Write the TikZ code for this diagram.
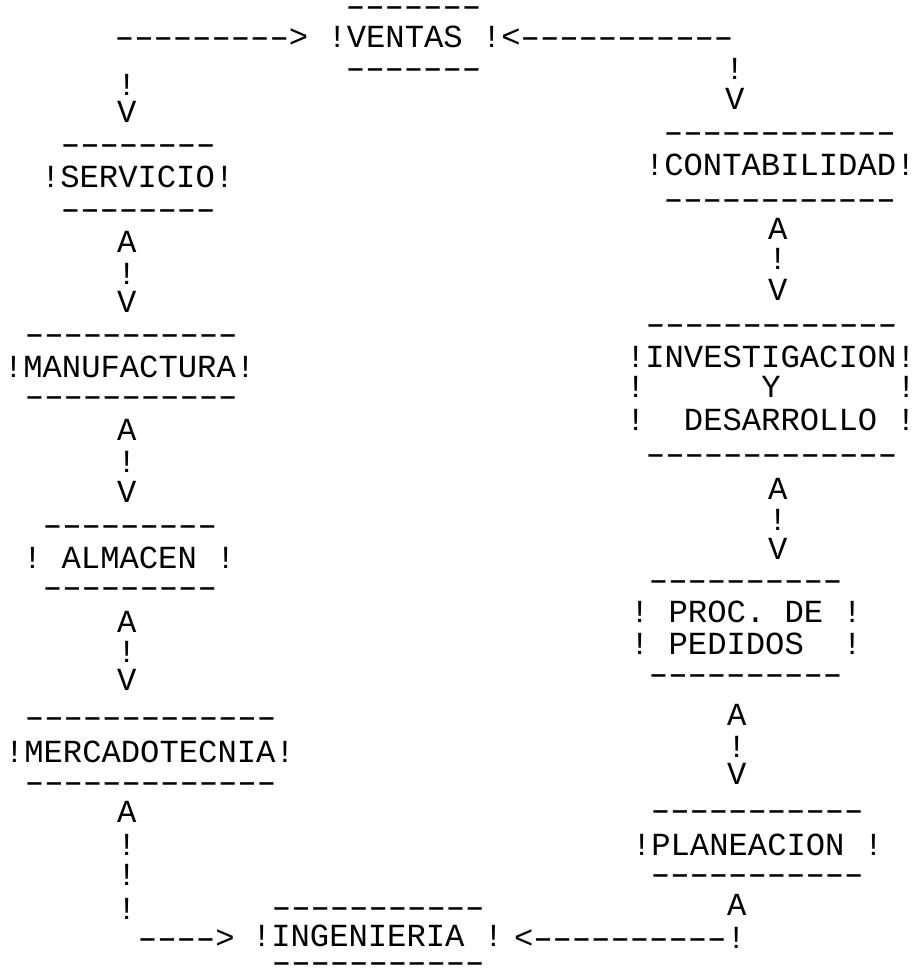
\documentclass[tikz,border=0pt]{standalone}
\usepackage{fontspec}
\usepackage{graphicx}
\newfontfamily\mono{Liberation Mono}[Ligatures={TeXOff,CommonOff}]
\newcommand\hy{\makebox[0.6em][c]{\scalebox{1.6}[1]{-}}}
\newcommand\hyn[1]{\foreach\i in {1,...,#1}{\hy}}
\begin{document}
\begin{tikzpicture}[x=1pt,y=-1pt,
  t/.style={anchor=mid west,inner sep=0pt,outer sep=0pt,text height=0.62em,text depth=0pt,
            font=\mono\fontsize{32.2}{38}\selectfont}]
\useasboundingbox (0,0) rectangle (916,979);
% top
\node[t] (vtop) at (346,14) {\hyn{7}};
\node[t] (ventas) at (115,45) {\hyn{9}>~!VENTAS~!<\hyn{11}};
\node[t] (vbot) at (346,76) {\hyn{7}};
\node[t] (l0a) at (117,93) {!};
\node[t] (l0b) at (117,120) {V};
\node[t] (r0a) at (725,77) {!};
\node[t] (r0b) at (725,107) {V};
% left column
\node[t] (s1) at (61,152) {\hyn{8}};
\node[t] (serv) at (41,185) {!SERVICIO!};
\node[t] (s2) at (61,217) {\hyn{8}};
\node[t] (l1a) at (117,250) {A};
\node[t] (l1b) at (117,282) {!};
\node[t] (l1c) at (117,310) {V};
\node[t] (m1) at (25,342) {\hyn{11}};
\node[t] (manu) at (4,375) {!MANUFACTURA!};
\node[t] (m2) at (25,404) {\hyn{11}};
\node[t] (l2a) at (117,438) {A};
\node[t] (l2b) at (117,470) {!};
\node[t] (l2c) at (117,500) {V};
\node[t] (a1) at (43,533) {\hyn{9}};
\node[t] (alm) at (23,566) {!~ALMACEN~!};
\node[t] (a2) at (43,595) {\hyn{9}};
\node[t] (l3a) at (117,630) {A};
\node[t] (l3b) at (117,660) {!};
\node[t] (l3c) at (117,688) {V};
\node[t] (k1) at (25,725) {\hyn{13}};
\node[t] (merc) at (5,760) {!MERCADOTECNIA!};
\node[t] (k2) at (25,790) {\hyn{13}};
\node[t] (l4a) at (117,820) {A};
\node[t] (l4b) at (117,853) {!};
\node[t] (l4c) at (117,883) {!};
\node[t] (l4d) at (117,917) {!};
\node[t] (arrL) at (138,946) {\hyn{4}>};
\node[t] (i1) at (272,915) {\hyn{11}};
\node[t] (ing) at (252,944) {!INGENIERIA~!};
\node[t] (i2) at (272,970) {\hyn{11}};
\node[t] (arrR) at (514,946) {<\hyn{10}!};
% right column
\node[t] (c1) at (664,140) {\hyn{12}};
\node[t] (cont) at (645,173) {!CONTABILIDAD!};
\node[t] (c2) at (664,207) {\hyn{12}};
\node[t] (r1a) at (768,237) {A};
\node[t] (r1b) at (768,267) {!};
\node[t] (r1c) at (768,298) {V};
\node[t] (d1) at (646,332) {\hyn{13}};
\node[t] (inv) at (626,365) {!INVESTIGACION!};
\node[t] (yy) at (626,395) {!~~~~~~Y~~~~~~!};
\node[t] (des) at (626,428) {!~~DESARROLLO~!};
\node[t] (d2) at (646,462) {\hyn{13}};
\node[t] (r2a) at (768,497) {A};
\node[t] (r2b) at (768,528) {!};
\node[t] (r2c) at (768,557) {V};
\node[t] (p1) at (649,588) {\hyn{10}};
\node[t] (proc) at (630,620) {!~PROC.~DE~!};
\node[t] (ped) at (630,652) {!~PEDIDOS~~!};
\node[t] (p2) at (649,682) {\hyn{10}};
\node[t] (r3a) at (727,723) {A};
\node[t] (r3b) at (727,755) {!};
\node[t] (r3c) at (727,782) {V};
\node[t] (n1) at (651,818) {\hyn{11}};
\node[t] (plan) at (632,853) {!PLANEACION~!};
\node[t] (n2) at (651,882) {\hyn{11}};
\node[t] (r4a) at (727,913) {A};
\end{tikzpicture}
\end{document}
